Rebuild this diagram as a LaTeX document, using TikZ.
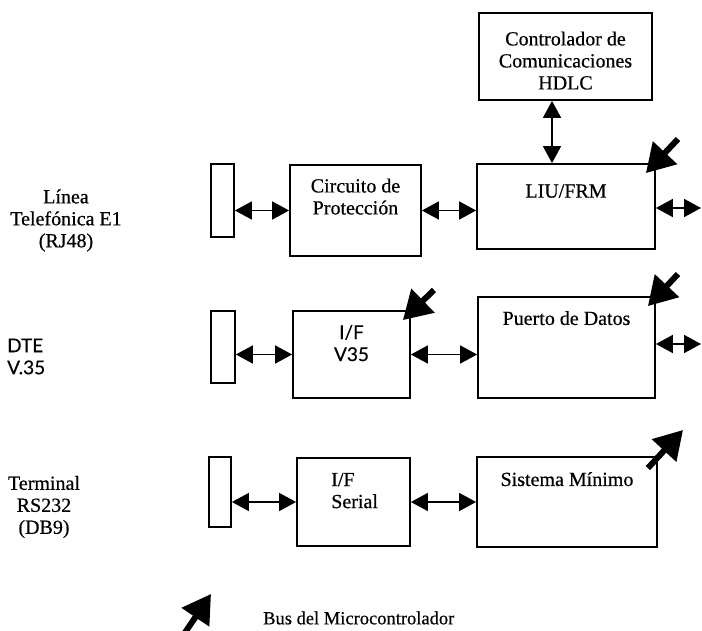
\documentclass[tikz,border=0pt]{standalone}
\usepackage{fontspec}
\setmainfont{Liberation Serif}[FakeBold=0.5]
\newfontfamily\optfont{Lato}[FakeBold=0.3]
\usetikzlibrary{arrows.meta}
\begin{document}
\begin{tikzpicture}[x=1pt,y=-1pt,
  font=\fontsize{20}{22}\selectfont,
  optf/.style={font={\fontsize{19}{22}\optfont}},
  blk/.style={draw, line width=1.8pt, inner sep=0pt},
  toptext/.style={anchor=center, inner sep=0pt, align=center},
  dbl/.style={{Triangle[length=17pt,width=18pt]}-{Triangle[length=17pt,width=18pt]}, line width=1.8pt},
  bus/.style={line width=6pt, -{Triangle[length=28pt,width=32pt]}},
  side/.style={inner sep=0pt, align=center}
]
\useasboundingbox (0,0) rectangle (702,631);

% Row 1
\node[blk, minimum width=173pt, minimum height=87pt,
  label={[toptext, yshift=-48.5pt]north:Controlador de\\Comunicaciones\\HDLC}] (ctl) at (565.5,56.5) {};
\node[blk, minimum width=178pt, minimum height=85pt,
  label={[toptext, yshift=-28pt]north:LIU/FRM}] (liu) at (566,206.5) {};
\node[blk, minimum width=131pt, minimum height=91pt,
  label={[toptext, yshift=-32.5pt]north:Circuito de\\Protección}] (prot) at (355.5,210.5) {};
\node[blk, minimum width=23pt, minimum height=73pt] (c1) at (222.5,200.5) {};
\node[side] (l1) at (66,220.5) {Línea\\Telefónica E1\\(RJ48)};

% Row 2
\node[blk, minimum width=24pt, minimum height=72pt] (c2) at (223,347) {};
\node[blk, minimum width=117pt, minimum height=87pt,
  label={[toptext, optf, yshift=-33pt]north:I/F\\V35}] (ifv) at (351.5,354.5) {};
\node[blk, minimum width=177pt, minimum height=101pt,
  label={[toptext, yshift=-22pt]north:Puerto de Datos}] (pto) at (566.5,347.5) {};
\node[side, optf, anchor=west, align=left] (l2) at (7,356.5) {DTE\\V.35};

% Row 3
\node[blk, minimum width=22pt, minimum height=70pt] (c3) at (220,492) {};
\node[blk, minimum width=113pt, minimum height=88pt,
  label={[anchor=west, inner sep=0pt, align=left, xshift=35pt, yshift=-33.5pt]north west:I/F\\Serial}] (ser) at (353.5,502) {};
\node[blk, minimum width=180pt, minimum height=90pt,
  label={[toptext, yshift=-23pt]north:Sistema Mínimo}] (sis) at (567,502) {};
\node[side] (l3) at (44,507) {Terminal\\RS232\\(DB9)};

% Legend
\node[inner sep=0pt, anchor=west, font=\fontsize{18.5}{22}\selectfont] (leg) at (263,618) {Bus del Microcontrolador};

% Double arrows
\draw[dbl] (c1.east |- prot.west) -- (prot.west);
\draw[dbl] (prot.east) -- (prot.east -| liu.west);
\coordinate (o1) at (701,208);
\draw[dbl] (liu.east |- o1) -- (o1);
\coordinate (v1) at ([xshift=-13.5pt]ctl.south);
\coordinate (v2) at (v1 |- liu.north);
\draw[dbl] (v1) -- (v2);

\draw[dbl] (c2.east |- ifv.west) -- (ifv.west);
\draw[dbl] (ifv.east) -- (ifv.east -| pto.west);
\coordinate (o2) at (701,344);
\draw[dbl] (pto.east |- o2) -- (o2);

\draw[dbl] (c3.east |- ser.west) -- (ser.west);
\draw[dbl] (ser.east) -- (ser.east -| sis.west);

% Bus arrows
\coordinate (b1) at (678,139);
\draw[bus] (b1) -- ([shift={(-10,10)}]liu.north east);
\coordinate (b2) at (434,290);
\draw[bus] (b2) -- ([shift={(-8,10)}]ifv.north east);
\coordinate (b3) at (678,274);
\draw[bus] (b3) -- ([shift={(-8,10)}]pto.north east);
\coordinate (b4) at (683,430);
\draw[bus] ([shift={(-10,12)}]sis.north east) -- (b4);
\coordinate (b5a) at (180,640);
\coordinate (b5b) at (211,594);
\draw[bus] (b5a) -- (b5b);
\end{tikzpicture}
\end{document}
